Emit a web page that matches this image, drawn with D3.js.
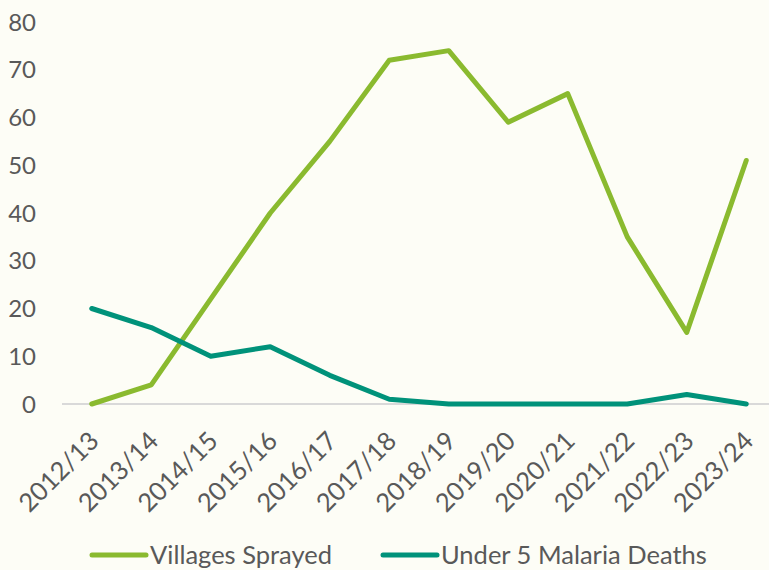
<!DOCTYPE html>
<html>
<head>
<meta charset="utf-8">
<script src="https://cdn.jsdelivr.net/npm/d3@7"></script>
<style>
  body { margin: 0; background: #fdfdf6; }
  svg { display: block; font-family: Lato, "Open Sans", sans-serif; }
</style>
</head>
<body>
<svg id="chart"></svg>
<script>
const YEARS = ['2012/13','2013/14','2014/15','2015/16','2016/17','2017/18','2018/19','2019/20','2020/21','2021/22','2022/23','2023/24']
const VILLAGES = [0, 4, 22, 40, 55, 72, 74, 59, 65, 35, 15, 51]
const DEATHS = [20, 16, 10, 12, 6, 1, 0, 0, 0, 0, 2, 0]
const Y_TICKS = [0, 10, 20, 30, 40, 50, 60, 70, 80]
const SERIES = [
  {name: 'Villages Sprayed', values: VILLAGES, color: '#8aba2f'},
  {name: 'Under 5 Malaria Deaths', values: DEATHS, color: '#00927a'},
]

const width = 769, height = 570
const svg = d3.select('#chart').attr('width', width).attr('height', height)

const x = d3.scaleBand().domain(YEARS).range([62, 776])
const y = d3.scaleLinear().domain([0, 80]).range([404, 22])
const cx = d => x(d) + x.bandwidth() / 2

// zero line
svg.append('line')
  .attr('x1', 62).attr('x2', width)
  .attr('y1', y(0)).attr('y2', y(0))
  .attr('stroke', '#d9d9d9').attr('stroke-width', 2)

// y labels
svg.append('g').selectAll('text').data(Y_TICKS)
  .enter().append('text')
    .attr('x', 36)
    .attr('y', d => y(d))
    .attr('dy', '0.36em')
    .attr('text-anchor', 'end')
    .attr('font-size', 24)
    .attr('fill', '#595959')
    .text(d => d)

// x labels, rotated
svg.append('g').selectAll('text').data(YEARS)
  .enter().append('text')
    .attr('transform', d => 'translate(' + (cx(d) - 4) + ',' + 430 + ') rotate(-45)')
    .attr('text-anchor', 'end')
    .attr('dy', '0.7em')
    .attr('font-size', 25.5)
    .attr('fill', '#595959')
    .text(d => d)

const line = d3.line()
  .x((d, i) => cx(YEARS[i]))
  .y(d => y(d))

for (const s of SERIES) {
  svg.append('path')
    .datum(s.values)
    .attr('d', line)
    .attr('fill', 'none')
    .attr('stroke', s.color)
    .attr('stroke-width', 5)
    .attr('stroke-linejoin', 'round')
    .attr('stroke-linecap', 'round')
}

// legend
const legendX = [92, 383]
const legend = svg.append('g').selectAll('g').data(SERIES)
  .enter().append('g')
    .attr('transform', (d, i) => 'translate(' + legendX[i] + ',555)')
legend.append('line')
  .attr('x1', 0).attr('x2', 54)
  .attr('stroke', d => d.color)
  .attr('stroke-width', 5)
  .attr('stroke-linecap', 'round')
legend.append('text')
  .attr('x', 58)
  .attr('dy', '0.36em')
  .attr('font-size', 25.5)
  .attr('fill', '#595959')
  .text(d => d.name)
</script>
</body>
</html>
